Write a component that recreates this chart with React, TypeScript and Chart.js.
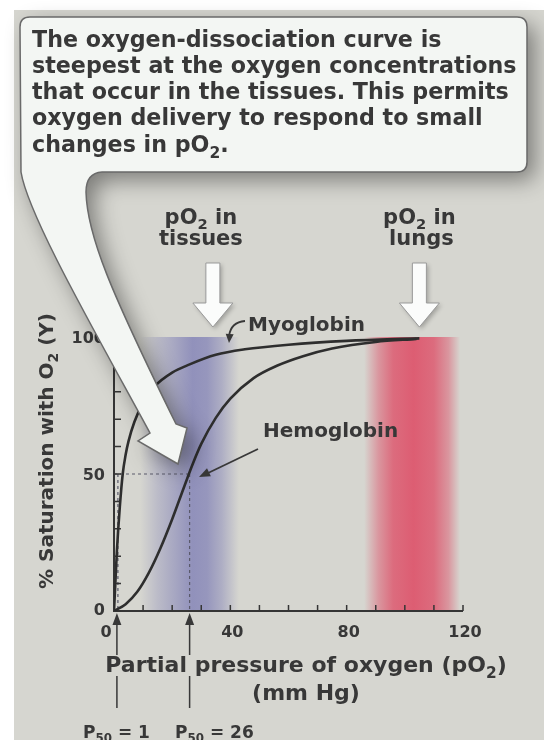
import React, { useEffect, useRef } from "react";
import { Chart, registerables } from "chart.js";

Chart.register(...registerables);

// ---- data ----
const myoglobinPO2 = [0, 0.5, 1, 2, 3, 4, 5, 7, 10, 14, 20, 26, 35, 45, 60, 80, 105];
const myoglobinSat = [0, 11, 22, 38, 50, 57, 62, 69, 76, 82, 87, 90, 93.5, 95.5, 97.2, 98.6, 99.5];
const hemoglobinPO2 = [0, 4, 8, 12, 16, 20, 24, 27, 30, 35, 40, 48, 56, 65, 75, 90, 104];
const hemoglobinSat = [0, 2.5, 7, 14, 23, 33.5, 45, 53.5, 61, 70.5, 77.5, 85, 89.5, 93, 95.8, 98.2, 99.3];
const xTickLabels = [0, 40, 80, 120];
const yTickLabels = [0, 50, 100];
const minorTickStep = 10;
const tissueRange = [9, 43];
const lungRange = [86, 119];
const tissuePO2 = 34;
const lungPO2 = 105;
const p50Values = [1, 26];
const p50Labels = ["1", "26"];
const calloutLines = [
  "The oxygen-dissociation curve is",
  "steepest at the oxygen concentrations",
  "that occur in the tissues. This permits",
  "oxygen delivery to respond to small",
];

const FONT = '"DejaVu Sans", "Liberation Sans", sans-serif';
const INK = "#383838";

type Part = [string, boolean];

function drawParts(
  ctx: CanvasRenderingContext2D,
  parts: Part[],
  x: number,
  y: number,
  size: number,
  align: "left" | "center" | "right"
) {
  const sub = size * 0.7;
  ctx.textAlign = "left";
  ctx.textBaseline = "alphabetic";
  const widths = parts.map(([t, s]) => {
    ctx.font = `bold ${s ? sub : size}px ${FONT}`;
    return ctx.measureText(t).width;
  });
  const total = widths.reduce((a, b) => a + b, 0);
  let cx = align === "center" ? x - total / 2 : align === "right" ? x - total : x;
  parts.forEach(([t, s], i) => {
    ctx.font = `bold ${s ? sub : size}px ${FONT}`;
    ctx.fillText(t, cx, s ? y + size * 0.25 : y);
    cx += widths[i];
  });
}

function calloutPath(ctx: CanvasRenderingContext2D) {
  ctx.beginPath();
  ctx.moveTo(30, 17);
  ctx.lineTo(517, 17);
  ctx.quadraticCurveTo(527, 17, 527, 27);
  ctx.lineTo(527, 162);
  ctx.quadraticCurveTo(527, 172, 517, 172);
  ctx.lineTo(102, 172);
  ctx.quadraticCurveTo(86, 173, 86, 192);
  ctx.bezierCurveTo(87, 235, 110, 290, 176, 424);
  ctx.lineTo(187, 428);
  ctx.lineTo(178, 464);
  ctx.lineTo(138, 441);
  ctx.lineTo(150, 433);
  ctx.bezierCurveTo(94, 330, 28, 215, 21, 172);
  ctx.lineTo(20, 27);
  ctx.quadraticCurveTo(20, 17, 30, 17);
  ctx.closePath();
}

function fatArrow(ctx: CanvasRenderingContext2D, x: number) {
  ctx.beginPath();
  ctx.moveTo(x - 7, 263);
  ctx.lineTo(x + 7, 263);
  ctx.lineTo(x + 7, 303);
  ctx.lineTo(x + 20, 303);
  ctx.lineTo(x, 327);
  ctx.lineTo(x - 20, 303);
  ctx.lineTo(x - 7, 303);
  ctx.closePath();
  ctx.save();
  ctx.shadowColor = "rgba(0,0,0,0.25)";
  ctx.shadowBlur = 4;
  ctx.shadowOffsetX = 2;
  ctx.shadowOffsetY = 2;
  ctx.fillStyle = "#fbfcfb";
  ctx.fill();
  ctx.restore();
  ctx.strokeStyle = "#9a9a9a";
  ctx.lineWidth = 1;
  ctx.stroke();
}

function arrowHead(ctx: CanvasRenderingContext2D, fx: number, fy: number, tx: number, ty: number, len: number, half: number) {
  const dx = tx - fx;
  const dy = ty - fy;
  const d = Math.hypot(dx, dy);
  const ux = dx / d;
  const uy = dy / d;
  const bx = tx - ux * len;
  const by = ty - uy * len;
  ctx.beginPath();
  ctx.moveTo(tx, ty);
  ctx.lineTo(bx - uy * half, by + ux * half);
  ctx.lineTo(bx + uy * half, by - ux * half);
  ctx.closePath();
  ctx.fill();
}

const figurePlugin = {
  id: "figure",
  beforeDraw(chart: any) {
    const { ctx, width, height } = chart;
    ctx.save();
    ctx.fillStyle = "#ffffff";
    ctx.fillRect(0, 0, width, height);
    ctx.fillStyle = "#d6d6d0";
    ctx.fillRect(14, 10, width - 14, height - 10);
    ctx.restore();
  },
  beforeDatasetsDraw(chart: any) {
    const { ctx, chartArea } = chart;
    const xs = chart.scales.x;
    const ys = chart.scales.y;
    const top = chartArea.top;
    const bottom = chartArea.bottom;
    ctx.save();

    // tissue (blue) band
    const tx0 = xs.getPixelForValue(tissueRange[0]);
    const tx1 = xs.getPixelForValue(tissueRange[1]);
    const tg = ctx.createLinearGradient(tx0, 0, tx1, 0);
    const tStops: [number, number][] = [[9, 0], [15, 0.25], [21, 0.45], [27, 0.65], [32, 0.6], [37, 0.38], [43, 0]];
    tStops.forEach(([p, a]) => tg.addColorStop((p - tissueRange[0]) / (tissueRange[1] - tissueRange[0]), `rgba(108,108,176,${a})`));
    ctx.fillStyle = tg;
    ctx.fillRect(tx0, top, tx1 - tx0, bottom - top);

    // lung (red) band
    const lx0 = xs.getPixelForValue(lungRange[0]);
    const lx1 = xs.getPixelForValue(lungRange[1]);
    const lg = ctx.createLinearGradient(lx0, 0, lx1, 0);
    const lStops: [number, number][] = [[86, 0], [91, 0.45], [96, 0.75], [103, 0.85], [110, 0.75], [115, 0.45], [119, 0]];
    lStops.forEach(([p, a]) => lg.addColorStop((p - lungRange[0]) / (lungRange[1] - lungRange[0]), `rgba(222,72,98,${a})`));
    ctx.fillStyle = lg;
    ctx.fillRect(lx0, top, lx1 - lx0, bottom - top);

    // dotted guides for P50
    const y50 = ys.getPixelForValue(50);
    const x26 = xs.getPixelForValue(p50Values[1]);
    const x1 = xs.getPixelForValue(p50Values[0]);
    ctx.strokeStyle = "#5a5a6a";
    ctx.lineWidth = 1.2;
    ctx.setLineDash([3, 3]);
    ctx.beginPath();
    ctx.moveTo(chartArea.left, y50);
    ctx.lineTo(x26, y50);
    ctx.moveTo(x26, y50);
    ctx.lineTo(x26, bottom);
    ctx.moveTo(x1 + 1, y50);
    ctx.lineTo(x1 + 1, bottom);
    ctx.stroke();
    ctx.setLineDash([]);

    // axes
    ctx.strokeStyle = "#353535";
    ctx.lineWidth = 2;
    ctx.beginPath();
    ctx.moveTo(chartArea.left, top);
    ctx.lineTo(chartArea.left, bottom);
    ctx.lineTo(chartArea.right, bottom);
    ctx.stroke();

    // inward minor ticks
    ctx.lineWidth = 1.5;
    ctx.beginPath();
    for (let v = ys.min; v <= ys.max; v += minorTickStep) {
      const py = ys.getPixelForValue(v);
      ctx.moveTo(chartArea.left, py);
      ctx.lineTo(chartArea.left + 7, py);
    }
    for (let v = xs.min; v <= xs.max; v += minorTickStep) {
      const px = xs.getPixelForValue(v);
      ctx.moveTo(px, bottom);
      ctx.lineTo(px, bottom - 6);
    }
    ctx.stroke();
    ctx.restore();
  },
  afterDatasetsDraw(chart: any) {
    const { ctx, chartArea } = chart;
    const xs = chart.scales.x;
    const ys = chart.scales.y;
    const bottom = chartArea.bottom;
    ctx.save();
    ctx.fillStyle = INK;
    ctx.strokeStyle = INK;

    // tick labels
    xTickLabels.forEach((v) => {
      const px = xs.getPixelForValue(v) + (v === xs.min ? -8 : 2);
      drawParts(ctx, [[String(v), false]], px, 637, 16, "center");
    });
    yTickLabels.forEach((v) => {
      const py = ys.getPixelForValue(v);
      drawParts(ctx, [[String(v), false]], chartArea.left - 9, py + (v === ys.min ? 4 : 6), 16, "right");
    });

    // x-axis title
    drawParts(ctx, [["Partial pressure of oxygen (pO", false], ["2", true], [")", false]], 306, 672, 22, "center");
    drawParts(ctx, [["(mm Hg)", false]], 306, 700, 22, "center");

    // y-axis title (rotated)
    ctx.save();
    ctx.translate(53, 451);
    ctx.rotate(-Math.PI / 2);
    drawParts(ctx, [["% Saturation with O", false], ["2", true], [" (Y)", false]], 0, 0, 20, "center");
    ctx.restore();

    // P50 arrows below the axis
    p50Values.forEach((v) => {
      const px = xs.getPixelForValue(v);
      ctx.beginPath();
      ctx.moveTo(px, bottom + 2);
      ctx.lineTo(px - 4.5, bottom + 14);
      ctx.lineTo(px + 4.5, bottom + 14);
      ctx.closePath();
      ctx.fill();
      ctx.lineWidth = 1.5;
      ctx.beginPath();
      ctx.moveTo(px, bottom + 13);
      ctx.lineTo(px, 655);
      ctx.moveTo(px, 676);
      ctx.lineTo(px, 708);
      ctx.stroke();
    });
    drawParts(ctx, [["P", false], ["50", true], [" = " + p50Labels[0], false]], 83, 738, 17, "left");
    drawParts(ctx, [["P", false], ["50", true], [" = " + p50Labels[1], false]], 175, 738, 17, "left");

    // curve labels
    drawParts(ctx, [["Myoglobin", false]], 248, 331, 20, "left");
    ctx.lineWidth = 1.8;
    ctx.beginPath();
    ctx.moveTo(245, 321);
    ctx.quadraticCurveTo(231, 322, 229, 336);
    ctx.stroke();
    arrowHead(ctx, 230, 330, 229, 343, 9, 4);

    drawParts(ctx, [["Hemoglobin", false]], 263, 437, 20, "left");
    ctx.beginPath();
    ctx.moveTo(258, 449);
    ctx.lineTo(206, 474);
    ctx.stroke();
    arrowHead(ctx, 258, 449, 199, 477, 11, 4.5);

    // callout
    ctx.save();
    calloutPath(ctx);
    ctx.shadowColor = "rgba(0,0,0,0.42)";
    ctx.shadowBlur = 22;
    ctx.shadowOffsetX = 8;
    ctx.shadowOffsetY = 8;
    ctx.fillStyle = "#f3f6f3";
    ctx.fill();
    ctx.restore();
    calloutPath(ctx);
    ctx.strokeStyle = "#6a6a6a";
    ctx.lineWidth = 1.5;
    ctx.stroke();

    ctx.fillStyle = INK;
    const baselines = [47, 73, 99, 125];
    calloutLines.forEach((line, i) => drawParts(ctx, [[line, false]], 32, baselines[i], 22.2, "left"));
    drawParts(ctx, [["changes in pO", false], ["2", true], [".", false]], 32, 152, 22.2, "left");

    // pO2 arrows and labels
    const tX = xs.getPixelForValue(tissuePO2);
    const lX = xs.getPixelForValue(lungPO2);
    fatArrow(ctx, tX);
    fatArrow(ctx, lX);
    ctx.fillStyle = INK;
    drawParts(ctx, [["pO", false], ["2", true], [" in", false]], tX - 12, 224, 21, "center");
    drawParts(ctx, [["tissues", false]], tX - 12, 245, 21, "center");
    drawParts(ctx, [["pO", false], ["2", true], [" in", false]], lX, 224, 21, "center");
    drawParts(ctx, [["lungs", false]], lX + 2, 245, 21, "center");

    ctx.restore();
  },
};

export default function App() {
  const canvasRef = useRef<HTMLCanvasElement | null>(null);

  useEffect(() => {
    document.body.style.margin = "0";
    const canvas = canvasRef.current;
    if (!canvas) return;
    const chart = new Chart(canvas, {
      type: "line",
      data: {
        datasets: [
          {
            label: "Myoglobin",
            data: myoglobinPO2.map((x, i) => ({ x, y: myoglobinSat[i] })),
            borderColor: "#2e2e2e",
            borderWidth: 2.6,
            pointRadius: 0,
            cubicInterpolationMode: "monotone",
            fill: false,
          },
          {
            label: "Hemoglobin",
            data: hemoglobinPO2.map((x, i) => ({ x, y: hemoglobinSat[i] })),
            borderColor: "#2e2e2e",
            borderWidth: 2.6,
            pointRadius: 0,
            cubicInterpolationMode: "monotone",
            fill: false,
          },
        ],
      },
      options: {
        animation: false,
        responsive: false,
        devicePixelRatio: 1,
        layout: { padding: { left: 114, right: 81, top: 337, bottom: 129 } },
        plugins: { legend: { display: false }, tooltip: { enabled: false } },
        scales: {
          x: { type: "linear", min: 0, max: 120, display: false },
          y: { type: "linear", min: 0, max: 100, display: false },
        },
      },
      plugins: [figurePlugin],
    });
    return () => chart.destroy();
  }, []);

  return (
    <div style={{ width: 544, height: 740 }}>
      <canvas ref={canvasRef} width={544} height={740} />
    </div>
  );
}
